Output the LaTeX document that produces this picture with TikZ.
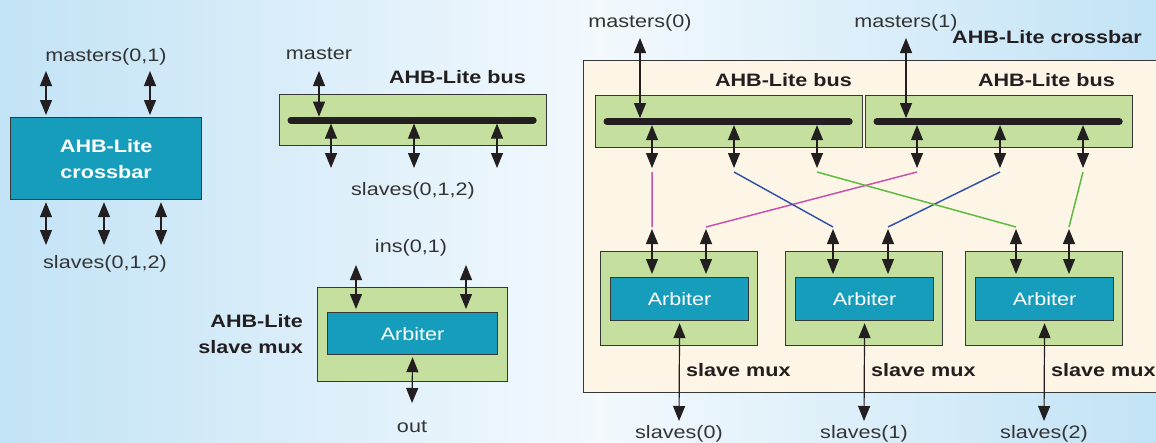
\documentclass[tikz,border=0pt]{standalone}
\usepackage{fontspec}
\setmainfont{Liberation Sans}[FakeStretch=1.2]
\usetikzlibrary{arrows.meta}
\usepackage{xcolor}
\definecolor{bgblue}{RGB}{194,227,246}
\definecolor{bgwhite}{RGB}{243,249,253}
\definecolor{arbteal}{RGB}{21,157,187}
\definecolor{busgreen}{RGB}{197,223,158}
\definecolor{xbarcream}{RGB}{253,245,230}
\definecolor{boxgray}{RGB}{55,55,55}
\definecolor{inkgray}{RGB}{52,52,52}
\definecolor{barblack}{RGB}{35,31,32}
\definecolor{wiremag}{RGB}{200,82,176}
\definecolor{wireblue}{RGB}{52,84,168}
\definecolor{wiregreen}{RGB}{96,188,64}
\newcommand\lblfont{\fontsize{18}{26}\selectfont}

\begin{document}
\begin{tikzpicture}[line join=miter,>={Triangle[width=12pt,length=15pt]},x=1pt,y=-1pt,
  box/.style={draw=boxgray,line width=1.2pt,inner sep=0pt,anchor=north west},
  tealbox/.style={box,fill=arbteal,text=white},
  busbox/.style={box,fill=busgreen},
  io/.style={<->,line width=1.2pt,draw=barblack},
  busbar/.style={line width=7pt,line cap=round,draw=barblack},
  wire/.style={line width=1.5pt},
  lbl/.style={font=\lblfont,text=inkgray,inner sep=0pt},
  head/.style={font=\lblfont\bfseries,text=barblack,inner sep=0pt}]
\clip (0,0) rectangle (1156,442);
\shade[left color=bgblue,right color=bgwhite] (0,0) rectangle (600,442);
\shade[left color=bgwhite,right color=bgblue] (600,0) rectangle (1156,442);

% crossbar as one block
\node[tealbox,minimum width=191pt,minimum height=82pt,font=\lblfont\bfseries,align=center] (xbar) at (10,117) {AHB-Lite\\crossbar};
\foreach \x [count=\i] in {46,150}{
  \coordinate (xm\i) at (\x,71);
  \draw[io,shorten >=2pt] (xm\i) -- (xm\i |- xbar.north);}
\foreach \x [count=\i] in {46,104,161}{
  \coordinate (xs\i) at (\x,245);
  \draw[io,shorten >=2pt] (xs\i) -- (xs\i |- xbar.south);}
\node[lbl,anchor=base] (xmlbl) at (106,61) {masters(0,1)};
\node[lbl,anchor=base] (xslbl) at (105,268) {slaves(0,1,2)};

% single bus
\node[busbox,minimum width=267pt,minimum height=51pt] (bus) at (279,94) {};
\draw[busbar] ([xshift=12pt]bus.west) -- ([xshift=-14pt]bus.east);
\coordinate (bmst) at (319,71);
\draw[io,shorten >=3.5pt] (bmst) -- (bmst |- bus.center);
\foreach \x [count=\i] in {331,414,497}{
  \coordinate (bslv\i) at (\x,168);
  \draw[io,shorten >=3.5pt] (bslv\i) -- (bslv\i |- bus.center);}
\node[lbl,anchor=base] (bmstlbl) at (319,59) {master};
\node[head,anchor=base east] (buslbl) at (526,83) {AHB-Lite bus};
\node[lbl,anchor=base] (bslvlbl) at (413,195) {slaves(0,1,2)};

% single slave mux
\node[busbox,minimum width=190pt,minimum height=94pt] (mux) at (317,287) {};
\node[tealbox,minimum width=170pt,minimum height=42pt,font=\lblfont] (arb) at (327,312) {Arbiter};
\foreach \x [count=\i] in {356,466}{
  \coordinate (in\i) at (\x,265);
  \draw[io,shorten >=3pt] (in\i) -- (in\i |- arb.north);}
\coordinate (muxout) at (412,403);
\draw[io,shorten <=2pt] (arb.south) -- (muxout);
\node[lbl,anchor=base] (inlbl) at (411,252) {ins(0,1)};
\node[lbl,anchor=base] (outlbl) at (412,432) {out};
\node[head,anchor=east,align=right] (muxlbl) at (303,334) {AHB-Lite\\slave mux};

% crossbar built from two buses and three slave muxes
\node[box,fill=xbarcream,minimum width=600pt,minimum height=332pt] (xbox) at (583,60) {};
\node[head,anchor=base east] (xboxlbl) at (1142,43) {AHB-Lite crossbar};
\foreach \bx/\mx/\lx/\n in {595/640/852/0,865/906/1115/1}{
  \node[busbox,minimum width=267pt,minimum height=52pt] (bus\n) at (\bx,95) {};
  \draw[busbar] ([xshift=12pt]bus\n.west) -- ([xshift=-14pt]bus\n.east);
  \node[head,anchor=base east] (buslbl\n) at (\lx,86) {AHB-Lite bus};
  \coordinate (mst\n) at (\mx,38);
  \draw[io,shorten >=3.5pt] (mst\n) -- (mst\n |- bus\n.center);
  \node[lbl,anchor=base] (mstlbl\n) at (\mx,27) {masters(\n)};}
\foreach \x [count=\i] in {652,734,817,917,1000,1083}{
  \coordinate (tap\i) at (\x,168);
  \coordinate (wt\i) at (\x,172);
  \draw[io,shorten >=3.5pt] (tap\i) -- (tap\i |- bus0.center);}
\foreach \bx/\n in {600/0,785/1,965/2}{
  \node[busbox,minimum width=157pt,minimum height=94pt] (smux\n) at (\bx,251) {};
  \node[tealbox,minimum width=138pt,minimum height=43pt,font=\lblfont] (sarb\n) at (\bx+10,277) {Arbiter};
  \coordinate (slv\n) at (\bx+79,421);
  \draw[io,shorten <=2pt] (sarb\n.south) -- (slv\n);
  \node[head,anchor=base west] (smuxlbl\n) at (\bx+86,376) {slave mux};
  \node[lbl,anchor=base] (slvlbl\n) at (\bx+79,438) {slaves(\n)};}
\foreach \x/\m [count=\i] in {652/0,706/0,833/1,888/1,1016/2,1069/2}{
  \coordinate (wb\i) at (\x,227);
  \coordinate (mi\i) at (\x,229);
  \draw[io,shorten >=3pt] (mi\i) -- (mi\i |- sarb\m.north);}
\draw[wire,wiremag] (wt1) -- (wb1) (wt4) -- (wb2);
\draw[wire,wireblue] (wt2) -- (wb3) (wt5) -- (wb4);
\draw[wire,wiregreen] (wt3) -- (wb5) (wt6) -- (wb6);
\end{tikzpicture}
\end{document}
